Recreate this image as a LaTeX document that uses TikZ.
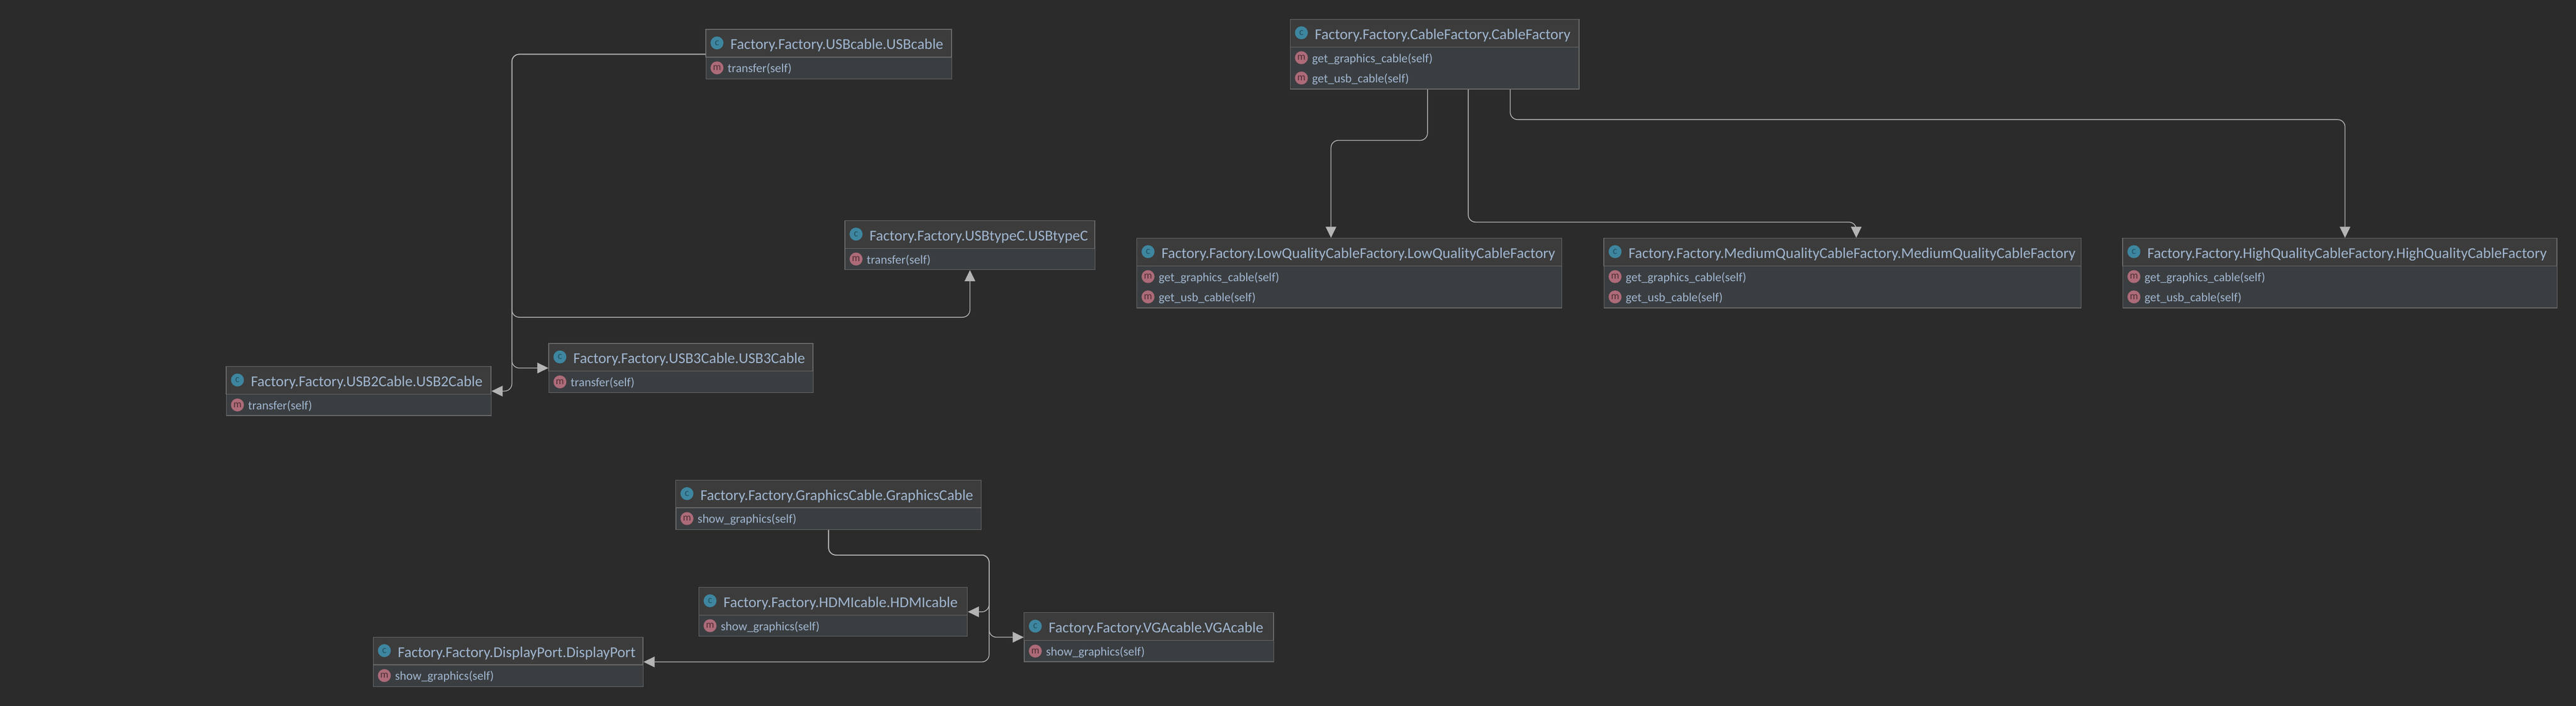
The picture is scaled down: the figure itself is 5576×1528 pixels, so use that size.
\documentclass[tikz,border=0pt]{standalone}
\usepackage{fontspec}
\setmainfont{Carlito}
\usetikzlibrary{arrows.meta,positioning}
\definecolor{bgcol}{HTML}{2B2B2B}
\definecolor{headcol}{HTML}{3C3C3C}
\definecolor{bodycol}{HTML}{3B3E41}
\definecolor{edgecol}{HTML}{6A6A6A}
\definecolor{linkcol}{HTML}{B4B4B4}
\definecolor{textcol}{HTML}{A0B6D0}
\definecolor{ccol}{HTML}{3E86A0}
\definecolor{ccoltext}{HTML}{23505F}
\definecolor{mcol}{HTML}{AD6B79}
\definecolor{mcoltext}{HTML}{4E2D35}

\begin{document}
\begin{tikzpicture}
		[x=1pt,y=-1pt,
		classbody/.style={draw=edgecol,fill=bodycol,line width=1.5pt,anchor=north west,inner sep=0pt,outer sep=1pt},
		classhead/.style={draw=edgecol,fill=headcol,line width=1.5pt,anchor=north west,inner sep=0pt,minimum height=60pt},
		classicon/.style={circle,fill=ccol,text=ccoltext,inner sep=0pt,minimum size=28pt,font=\fontsize{22}{22}\selectfont},
		methodicon/.style={circle,fill=mcol,text=mcoltext,inner sep=0pt,minimum size=28pt,font=\fontsize{22}{22}\selectfont},
		classtext/.style={text=textcol,anchor=base west,inner sep=0pt,font=\fontsize{32.5}{33}\selectfont},
		methodtext/.style={text=textcol,anchor=base west,inner sep=0pt,font=\fontsize{26.5}{27}\selectfont},
		link/.style={draw=linkcol,line width=1.7pt,rounded corners=16pt,-{Triangle[length=24pt,width=23pt,fill=linkcol]}}]
		\useasboundingbox (0,0) rectangle (5576,1528);
		\fill[bgcol] (-2,-2) rectangle (5578,1530);
		
		% classes
		\foreach \ttl/\xa/\ya/\xb/\yb/\mths in {
			USBcable/1527/63/2059/170/{transfer(self)},
			USBtypeC/1828/477/2369/583/{transfer(self)},
			USB2Cable/489/793/1062/899/{transfer(self)},
			USB3Cable/1187/743/1759/849/{transfer(self)},
			GraphicsCable/1462/1039/2123/1146/{show\_graphics(self)},
			HDMIcable/1512/1271/2093/1377/{show\_graphics(self)},
			VGAcable/2216/1326/2756/1432/{show\_graphics(self)},
			DisplayPort/807/1379/1391/1486/{show\_graphics(self)},
			CableFactory/2792/41/3417/192/{get\_graphics\_cable(self),get\_usb\_cable(self)},
			LowQualityCableFactory/2460/515/3380/666/{get\_graphics\_cable(self),get\_usb\_cable(self)},
			MediumQualityCableFactory/3471/515/4504/666/{get\_graphics\_cable(self),get\_usb\_cable(self)},
			HighQualityCableFactory/4594/515/5534/666/{get\_graphics\_cable(self),get\_usb\_cable(self)}} {
			\node[classbody,minimum width={(\xb-\xa)*1pt},minimum height={(\yb-\ya)*1pt}] (\ttl) at (\xa,\ya) {};
			\node[classhead,minimum width={(\xb-\xa)*1pt}] (\ttl head) at (\xa,\ya) {};
			\node[classicon] (\ttl icon) at (\xa+25,\ya+30) {c};
			\node[classtext] (\ttl text) at (\xa+54,\ya+44) {Factory.Factory.\ttl.\ttl};
			\foreach \mth [count=\i] in \mths {
				\node[methodicon] (\ttl m\i) at (\xa+25,\ya+40+44*\i) {m};
				\node[methodtext] (\ttl t\i) at (\xa+48,\ya+50+44*\i) {\mth};
			}
		}
		
		\coordinate (usbjoint) at (1108,687);
		\coordinate (gfxjoint) at (2141,1202);
		\coordinate (lowjoint) at (3000,304);
		\coordinate (midjoint) at (3500,481);
		\coordinate (highjoint) at (4000,259);
		
		\draw[link] (USBcable.west) -| (usbjoint) -| (USBtypeC.south);
		\draw[link] (USBcable.west) -| (usbjoint) |- (USB3Cable.west);
		\draw[link] (USBcable.west) -| (usbjoint) |- (USB2Cable.east);
		
		\draw[link] (GraphicsCable.south) |- (gfxjoint) |- (HDMIcable.east);
		\draw[link] (GraphicsCable.south) |- (gfxjoint) |- (VGAcable.west);
		\draw[link] (GraphicsCable.south) |- (gfxjoint) |- (DisplayPort.east);
		
		\draw[link] ([xshift=-15.5pt]CableFactory.south) |- (lowjoint) -| ([xshift=-40pt]LowQualityCableFactory.north);
		\draw[link] ([xshift=72.5pt]CableFactory.south) |- (midjoint) -| ([xshift=29.5pt]MediumQualityCableFactory.north);
		\draw[link] ([xshift=163.5pt]CableFactory.south) |- (highjoint) -| ([xshift=11pt]HighQualityCableFactory.north);
		\end{tikzpicture}
\end{document}
